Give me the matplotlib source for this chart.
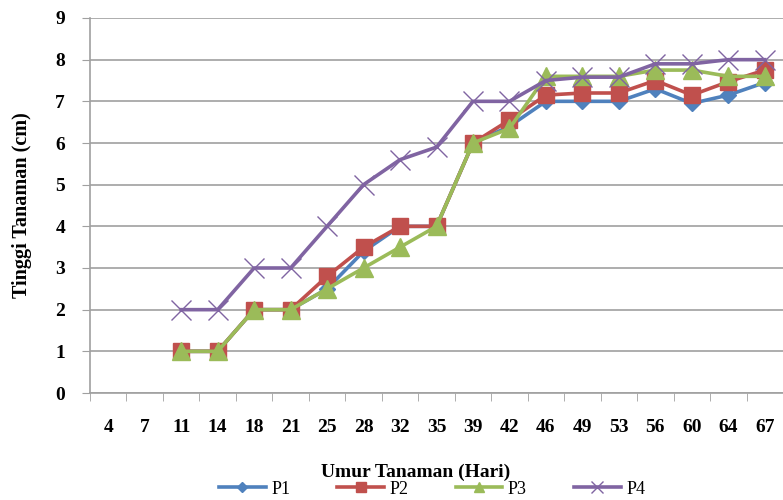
import matplotlib
matplotlib.use("Agg")
import matplotlib.pyplot as plt
import numpy as np

# umur tanaman (hari)
days = ['4', '7', '11', '14', '18', '21', '25', '28', '32', '35',
        '39', '42', '46', '49', '53', '56', '60', '64', '67']

# tinggi tanaman (cm), data mulai dari hari ke-11
p1 = [np.nan, np.nan, 1, 1, 2, 2, 2.5, 3.4, 4, 4, 6, 6.4, 7, 7, 7, 7.3, 6.95, 7.15, 7.45]
p2 = [np.nan, np.nan, 1, 1, 2, 2, 2.8, 3.5, 4, 4, 6, 6.55, 7.15, 7.2, 7.2, 7.5, 7.15, 7.47, 7.75]
p3 = [np.nan, np.nan, 1, 1, 2, 2, 2.5, 3, 3.5, 4, 6, 6.35, 7.6, 7.6, 7.6, 7.75, 7.75, 7.6, 7.6]
p4 = [np.nan, np.nan, 2, 2, 3, 3, 4, 5, 5.6, 5.9, 7, 7, 7.5, 7.58, 7.58, 7.9, 7.9, 8, 8]

plt.rcParams['font.family'] = ['Liberation Serif', 'DejaVu Serif']

fig = plt.figure(figsize=(7.83, 5), dpi=100)
ax = fig.add_axes([90/783, 107/500, 693/783, 375/500])

x = np.arange(len(days))
ax.plot(x, p1, color='#4F81BD', lw=2.6, marker='D', ms=8, label='P1')
ax.plot(x, p2, color='#C0504D', lw=2.6, marker='s', ms=12, label='P2')
ax.plot(x, p3, color='#9BBB59', lw=2.6, marker='^', ms=13, label='P3')
ax.plot(x, p4, color='#8064A2', lw=2.6, marker='x', ms=14, mew=1, label='P4')

ax.set_xlim(-0.5, len(days) - 0.58)
ax.set_ylim(0, 9)
ax.set_yticks(range(0, 10))
ax.set_xticks(x)
ax.set_xticklabels(days)
ax.set_xticks(np.arange(-0.5, len(days), 1), minor=True)
ax.tick_params(axis='x', which='major', length=0, pad=19)
ax.tick_params(axis='x', which='minor', length=6, color='#a0a0a0', direction='out')
ax.tick_params(axis='y', length=6, color='#a0a0a0', direction='out', pad=12)
for lab in ax.get_xticklabels() + ax.get_yticklabels():
    lab.set_fontsize(14)
    lab.set_fontweight('bold')

ax.grid(axis='y', color='#a0a0a0', lw=1.2)
ax.set_axisbelow(True)
for s in ['top', 'right']:
    ax.spines[s].set_visible(False)
for s in ['left', 'bottom']:
    ax.spines[s].set_color('#a0a0a0')
    ax.spines[s].set_linewidth(1.2)

ax.set_ylabel('Tinggi Tanaman (cm)', fontsize=14.5, fontweight='bold')
ax.yaxis.set_label_coords(-0.084, 0.5)
fig.text(416/783, 1 - 472/500, 'Umur Tanaman (Hari)', fontsize=14, fontweight='bold',
         ha='center', va='center')

fig.legend(loc='center', bbox_to_anchor=(432/783, 11/500), ncol=4, frameon=False,
           fontsize=13, markerscale=0.6, handlelength=2.6, handletextpad=0.3,
           columnspacing=2.6, borderpad=0.1)

fig.savefig('out.png', dpi=100)
